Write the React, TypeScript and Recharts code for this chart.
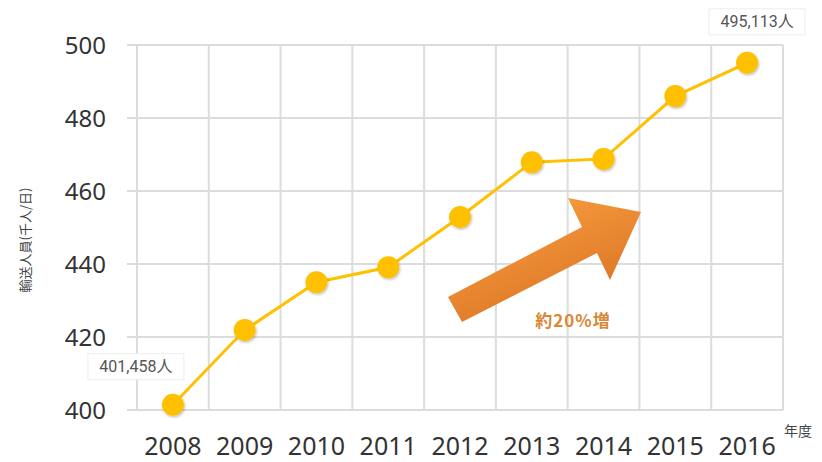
import { LineChart, Line, XAxis, YAxis, CartesianGrid, Customized } from "recharts"

const years = ["2008", "2009", "2010", "2011", "2012", "2013", "2014", "2015", "2016"]
const riders = [401.458, 421.9, 435.0, 439.1, 452.9, 467.9, 468.8, 486.0, 495.113]
const yTicks = [400, 420, 440, 460, 480, 500]
const xTicks = [0, 1, 2, 3, 4, 5, 6, 7, 8]
const cellEdges = [-0.5, 0.5, 1.5, 2.5, 3.5, 4.5, 5.5, 6.5, 7.5, 8.5]

const data = years.map((year, i) => ({ i, year, value: riders[i] }))

const font = "'Noto Sans', 'Liberation Sans', Arial, sans-serif"
const jp = "'Noto Sans CJK JP', 'Noto Sans', sans-serif"
const gold = "#ffc000"
const gridColor = "#dcdcdc"

function ValueLabel(props: any) {
  const { x, y, index, value } = props
  if (index !== 0 && index !== data.length - 1) return null
  const text = Math.round(value * 1000).toLocaleString("en-US") + "人"
  // box sits up-left of first point, up-right of last point
  const cx = index === 0 ? x - 37 : x + 10
  const cy = index === 0 ? y - 38 : y - 41
  return (
    <g>
      <rect x={cx - 48} y={cy - 13} width={96} height={26} fill="#fff" stroke="#eeeeee" />
      <text x={cx} y={cy} textAnchor="middle" dominantBaseline="central" fontSize={16}
        fontFamily="Roboto, 'Noto Sans CJK JP', sans-serif" fill="#555">{text}</text>
    </g>
  )
}

function Defs() {
  return (
    <defs>
      <filter id="dotShadow" x="-50%" y="-50%" width="200%" height="200%">
        <feDropShadow dx="1" dy="1.5" stdDeviation="1" floodColor="#000" floodOpacity="0.25" />
      </filter>
    </defs>
  )
}

export default function App() {
  return (
    <div style={{ position: "relative", width: 822, height: 462, background: "#fff" }}>
      <style>{`body{margin:0}`}</style>
      <LineChart width={822} height={462} data={data} margin={{ top: 45, right: 39, bottom: 0, left: 0 }}>
        <Customized component={Defs} />
        <CartesianGrid xAxisId="edges" stroke={gridColor} strokeWidth={2} />
        <XAxis xAxisId="edges" type="number" dataKey="i" domain={[-0.5, 8.5]} ticks={cellEdges}
          height={0} axisLine={false} tickSize={10} tickLine={{ stroke: gridColor, strokeWidth: 2 }}
          tick={() => <g />} allowDataOverflow />
        <XAxis type="number" dataKey="i" domain={[-0.5, 8.5]} ticks={xTicks} height={52}
          tickFormatter={(v) => years[v]} axisLine={false} tickLine={false} tickSize={0} tickMargin={27}
          tick={{ fontSize: 25, fill: "#333", fontFamily: font }} interval={0} />
        <YAxis domain={[400, 500]} ticks={yTicks} width={137} axisLine={false} tickSize={10}
          tickMargin={21} tickLine={{ stroke: gridColor, strokeWidth: 2 }}
          tick={{ fontSize: 24, fill: "#333", fontFamily: font }} />
        <Line dataKey="value" stroke={gold} strokeWidth={3} isAnimationActive={false}
          dot={{ r: 11, fill: gold, stroke: "none", filter: "url(#dotShadow)" }} label={<ValueLabel />} />
      </LineChart>
      <svg width={822} height={462} style={{ position: "absolute", left: 0, top: 0, pointerEvents: "none" }}>
        <defs>
          <linearGradient id="arrowFill" x1="0.2" y1="0" x2="0.8" y2="1">
            <stop offset="0%" stopColor="#f9a140" />
            <stop offset="100%" stopColor="#d86e22" />
          </linearGradient>
        </defs>
        <polygon points="448,297 582,227 568,198 641,212 610,280 597,253 462,322" fill="url(#arrowFill)" />
        <text x={573} y={319} textAnchor="middle" dominantBaseline="central" fontSize={17} fontWeight="bold"
          fontFamily={jp} fill="#d98836" letterSpacing={1}>約20%増</text>
        <text x={24} y={240} textAnchor="middle" dominantBaseline="central" fontSize={13} fontFamily={jp}
          fill="#444" transform="rotate(-90 24 240)">輸送人員(千人/日)</text>
        <text x={798} y={430} textAnchor="middle" dominantBaseline="central" fontSize={14} fontFamily={jp}
          fill="#444">年度</text>
      </svg>
    </div>
  )
}
